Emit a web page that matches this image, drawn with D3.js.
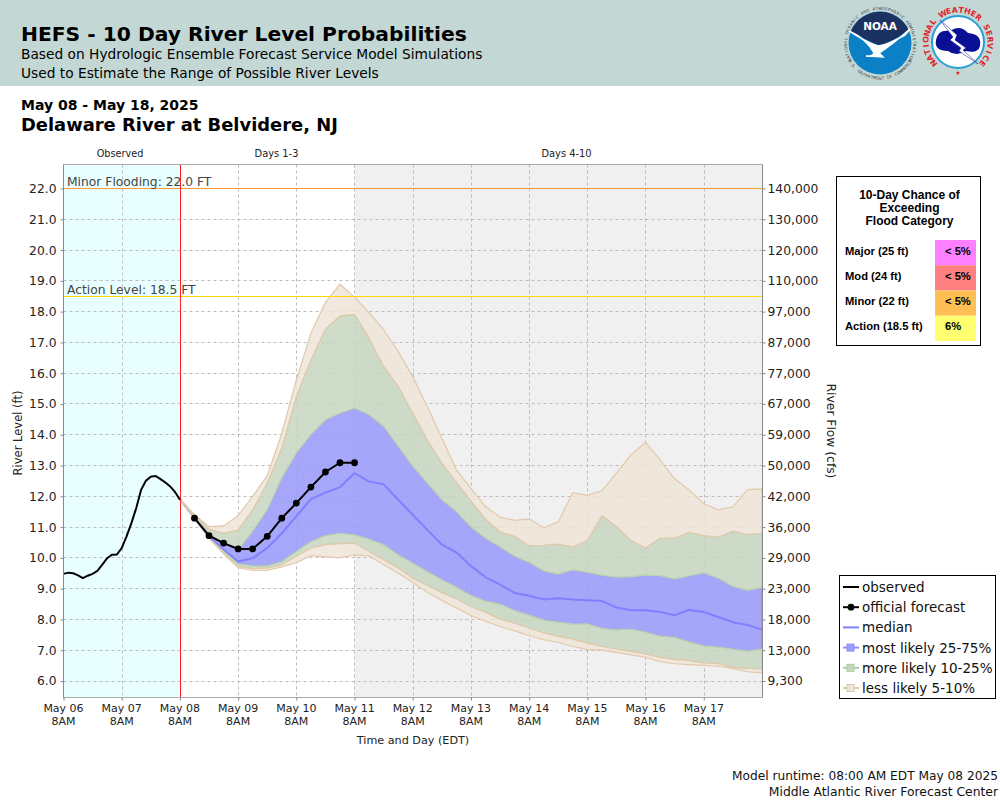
<!DOCTYPE html>
<html><head><meta charset="utf-8">
<script src="https://cdn.jsdelivr.net/npm/d3@7"></script>
<style>html,body{margin:0;padding:0;background:#fff}svg{display:block}text{font-family:"DejaVu Sans",sans-serif}</style>
</head><body><svg id="c" width="1000" height="800"></svg>
<script>
const stageTicks=[6,7,8,9,10,11,12,13,14,15,16,17,18,19,20,21,22];
const flowLabels=["9,300","13,000","18,000","23,000","29,000","36,000","42,000","50,000","59,000","67,000","77,000","87,000","97,000","110,000","120,000","130,000","140,000"];
const dayLabels=["May 06","May 07","May 08","May 09","May 10","May 11","May 12","May 13","May 14","May 15","May 16","May 17"];
const obsHours=[0,2,4,6,8,10,12,14,16,18,20,22,24,26,28,30,32,34,36,38,40,42,44,46,48];
const observed=[9.48,9.52,9.50,9.43,9.34,9.42,9.48,9.58,9.78,9.99,10.10,10.11,10.32,10.70,11.13,11.62,12.21,12.51,12.64,12.66,12.56,12.45,12.32,12.14,11.89];
const official=[11.29,10.72,10.48,10.29,10.29,10.70,11.29,11.78,12.30,12.79,13.09,13.09];
const median=[11.91,11.29,10.70,10.26,9.88,9.99,10.32,10.80,11.35,11.91,12.12,12.30,12.75,12.48,12.39,11.89,11.40,10.91,10.43,10.18,9.74,9.37,9.13,8.86,8.77,8.65,8.69,8.65,8.62,8.60,8.39,8.30,8.30,8.24,8.14,8.31,8.24,8.08,7.91,7.82,7.67];
const p75=[11.91,11.35,10.75,10.50,10.25,10.86,11.56,12.59,13.40,14.00,14.48,14.70,14.86,14.65,14.27,13.62,12.97,12.43,11.89,11.50,11.00,10.64,10.35,10.05,9.85,9.57,9.47,9.61,9.53,9.43,9.37,9.38,9.44,9.42,9.31,9.41,9.51,9.34,9.07,8.94,9.04];
const p25=[11.91,11.29,10.64,10.21,9.81,9.74,9.74,9.88,10.21,10.53,10.73,10.80,10.75,10.61,10.43,10.10,9.83,9.56,9.29,9.05,8.78,8.60,8.50,8.29,8.14,7.98,7.91,7.85,7.86,7.71,7.66,7.69,7.59,7.46,7.42,7.27,7.14,7.10,7.04,6.97,7.03];
const p90=[11.91,11.40,10.93,10.80,10.91,11.56,12.43,13.56,15.24,16.43,17.43,17.86,17.91,17.14,16.22,15.57,14.70,13.83,13.08,12.45,11.85,11.26,10.84,10.70,10.39,10.41,10.45,10.35,10.56,11.37,11.02,10.56,10.32,10.64,10.64,10.83,10.72,10.67,10.87,10.76,10.80];
const p10=[11.91,11.29,10.64,10.15,9.72,9.65,9.67,9.78,10.05,10.32,10.43,10.46,10.48,10.21,9.94,9.67,9.35,9.10,8.87,8.67,8.42,8.23,8.01,7.88,7.72,7.56,7.45,7.36,7.23,7.12,7.04,6.96,6.88,6.77,6.70,6.66,6.59,6.56,6.44,6.41,6.39];
const p95=[11.91,11.40,11.02,11.04,11.38,12.00,12.67,14.05,15.78,17.30,18.30,18.89,18.47,17.97,17.41,16.70,15.89,14.92,13.89,12.86,12.25,11.67,11.32,11.22,11.27,10.98,11.17,12.12,12.03,12.18,12.75,13.35,13.75,13.18,12.57,12.21,11.76,11.56,11.66,12.22,12.24];
const p05=[11.91,11.29,10.64,10.13,9.68,9.59,9.59,9.71,9.84,10.07,10.03,10.00,10.10,10.07,9.78,9.50,9.20,8.88,8.62,8.37,8.13,7.94,7.77,7.63,7.47,7.34,7.25,7.12,7.03,7.00,6.93,6.85,6.77,6.63,6.56,6.53,6.51,6.48,6.41,6.30,6.26];
const catNames=["Major (25 ft)","Mod (24 ft)","Minor (22 ft)","Action (18.5 ft)"];
const catValues=["< 5%","< 5%","< 5%","6%"];
const catColors=["#ff80ff","#ff8080","#ffbf55","#ffff70"];
const legendNames=["observed","official forecast","median","most likely 25-75%","more likely 10-25%","less likely 5-10%"];

const svg=d3.select("#c");
const L=63.5,R=762.5,T=164.5,B=697.5;
const x=d3.scaleLinear().domain([0,288]).range([L,762]);
const y=d3.scaleLinear().domain([6,22]).range([681,188.5]);
const t0=48;
const fh=i=>t0+i*6;
const cx=v=>Math.floor(v+0.4)+0.5, cy=v=>Math.floor(v)+0.5;

const txt=(g,xx,yy,s,size,o={})=>g.append("text").attr("x",xx).attr("y",yy).attr("font-size",size)
 .attr("font-weight",o.w||null).attr("fill",o.c||"#000").attr("text-anchor",o.a||"start")
 .style("font-family",o.f||null).text(s);

// header
svg.append("rect").attr("width",1000).attr("height",86).attr("fill","#c3d8d5");
txt(svg,21,41,"HEFS - 10 Day River Level Probabilities",20.25,{w:"bold"});
txt(svg,21,59,"Based on Hydrologic Ensemble Forecast Service Model Simulations",13.75);
txt(svg,21,78,"Used to Estimate the Range of Possible River Levels",13.75);
txt(svg,21,110,"May 08 - May 18, 2025",14,{w:"bold"});
txt(svg,21,131,"Delaware River at Belvidere, NJ",17.9,{w:"bold"});

// logos: ring lettering placed glyph by glyph
const ring=(g,ax,ay,r,a0,a1,s,size,color,weight,bottom)=>{
 Array.from(s).forEach((ch,i)=>{
  if(ch===" ")return;
  const a=a0+(a1-a0)*(i+.5)/s.length;
  const deg=a*180/Math.PI+(bottom?-90:90);
  g.append("text").attr("transform",`translate(${ax+r*Math.cos(a)},${ay+r*Math.sin(a)}) rotate(${deg})`)
   .attr("text-anchor","middle").attr("font-size",size).attr("font-weight",weight).attr("fill",color).text(ch);
 });
};
const noaa=svg.append("g");
const nx=880,ny=43;
noaa.append("circle").attr("cx",nx).attr("cy",ny).attr("r",31.5).attr("fill","#0b80c6");
noaa.append("path").attr("d",`M${nx-29},${ny-12}A31.5,31.5 0 0 1 ${nx+29},${ny-12}L${nx+25},${ny-10}Q${nx+8},${ny+1} ${nx-2},${ny+2}Q${nx-12},${ny-2} ${nx-29},${ny-12}Z`).attr("fill","#1b3162");
noaa.append("path").attr("d",`M${nx-31},${ny-12}Q${nx-13},${ny-4} ${nx-6},${ny+10}Q${nx-8},${ny+14} ${nx-14},${ny+13}L${nx+3},${ny+14}L${nx-1},${ny+10}Q${nx+12},${ny+2} ${nx+31},${ny-15}L${nx+25},${ny-8}Q${nx+5},${ny+3} ${nx-2},${ny+3}Q${nx-16},${ny-2} ${nx-31},${ny-12}Z`).attr("fill","#fff").attr("stroke","#fff").attr("stroke-width",1.5);
txt(noaa,nx,ny-13,"NOAA",10.5,{w:"bold",c:"#fff",a:"middle"});
ring(noaa,nx,ny,33.2,Math.PI*0.82,Math.PI*2.18,"NATIONAL OCEANIC AND ATMOSPHERIC ADMINISTRATION",3.9,"#334",null,false);
ring(noaa,nx,ny,36.5,Math.PI*0.84,Math.PI*0.16,"U.S. DEPARTMENT OF COMMERCE",3.9,"#334",null,true);
const nws=svg.append("g");
const wx=958,wy=42;
nws.append("circle").attr("cx",wx).attr("cy",wy).attr("r",26).attr("fill","#fff").attr("stroke","#2a9fd6").attr("stroke-width",2);
nws.append("path").attr("d",`M${wx-22},${wy-2}Q${wx-20},${wy-13} ${wx-8},${wy-11}Q${wx+2},${wy-18} ${wx+10},${wy-9}Q${wx+24},${wy-8} ${wx+22},${wy+4}Q${wx+20},${wy+12} ${wx+8},${wy+9}Q${wx-2},${wy+15} ${wx-10},${wy+9}Q${wx-24},${wy+9} ${wx-22},${wy-2}Z`).attr("fill","#0b0f96");
nws.append("path").attr("d",`M${wx-18},${wy-22}L${wx-1},${wy-7}L${wx-3},${wy-2}L${wx+8},${wy+6}L${wx+5},${wy+8}L${wx+20},${wy+22}L${wx+1},${wy+9}L${wx+3},${wy+6}L${wx-8},${wy-2}L${wx-5},${wy-5}Z`).attr("fill","#fff").attr("stroke","#0b0f96").attr("stroke-width",.5);
ring(nws,wx,wy,29.5,Math.PI*0.74,Math.PI*2.26,"NATIONAL WEATHER SERVICE",7.8,"#e0242c","bold",false);
txt(nws,wx,wy+33,"★",6,{c:"#e0242c",a:"middle"});

// plot background
svg.append("rect").attr("x",L).attr("y",T).attr("width",cx(x(t0))-L).attr("height",B-T).attr("fill","#e9ffff");
svg.append("rect").attr("x",cx(x(120))).attr("y",T).attr("width",R-cx(x(120))).attr("height",B-T).attr("fill","#f0f0f0");

// grid
const grid=svg.append("g").attr("stroke","#bbb").attr("stroke-width",1).attr("stroke-dasharray","3,3");
grid.selectAll("line.h").data(stageTicks).join("line").attr("class","h").attr("x1",L).attr("x2",R).attr("y1",d=>cy(y(d))).attr("y2",d=>cy(y(d)));
grid.selectAll("line.v").data(dayLabels.map((d,i)=>i*24)).join("line").attr("class","v").attr("x1",d=>cx(x(d))).attr("x2",d=>cx(x(d))).attr("y1",T).attr("y2",B);

// bands (innermost first, so the pale bands sit on top where they all pinch together)
const idx=d3.range(41);
const band=(lo,hi,fill,stroke,op)=>svg.append("path").datum(idx)
 .attr("d",d3.area().x(i=>x(fh(i))).y0(i=>y(lo[i])).y1(i=>y(hi[i])))
 .attr("fill",fill).attr("fill-opacity",op).attr("stroke",stroke).attr("stroke-width",1.2);
band(p25,p75,"#9c9cfb","#8e8efa",.9);
svg.append("path").datum(idx).attr("d",d3.line().x(i=>x(fh(i))).y(i=>y(median[i])))
 .attr("fill","none").attr("stroke","#8080ff").attr("stroke-width",2);
band(p75,p90,"#c6d6c0","#b8d3ae",.85);
band(p10,p25,"#c6d6c0","#b8d3ae",.85);
band(p90,p95,"#eee4d8","#e2c9ab",.85);
band(p05,p10,"#eee4d8","#e2c9ab",.85);

// levels
svg.append("line").attr("x1",L).attr("x2",R).attr("y1",cy(y(22))).attr("y2",cy(y(22))).attr("stroke","#ff9a2e").attr("stroke-width",1);
svg.append("line").attr("x1",L).attr("x2",R).attr("y1",cy(y(18.5))).attr("y2",cy(y(18.5))).attr("stroke","#ffd700").attr("stroke-width",1);
txt(svg,67,186,"Minor Flooding: 22.0 FT",12.3,{c:"#444"});
txt(svg,67,294,"Action Level: 18.5 FT",12.3,{c:"#444"});
svg.append("line").attr("x1",cx(x(t0))).attr("x2",cx(x(t0))).attr("y1",T).attr("y2",B).attr("stroke","#ff2020").attr("stroke-width",1);

// observed, official
svg.append("path").datum(obsHours).attr("d",d3.line().x(h=>x(h)).y((h,i)=>y(observed[i])))
 .attr("fill","none").attr("stroke","#000").attr("stroke-width",2);
const offIdx=d3.range(1,13);
svg.append("path").datum(offIdx).attr("d",d3.line().x(i=>x(fh(i))).y((i,k)=>y(official[k])))
 .attr("fill","none").attr("stroke","#000").attr("stroke-width",2);
svg.selectAll("circle.o").data(offIdx).join("circle").attr("class","o").attr("cx",i=>x(fh(i))).attr("cy",(i,k)=>y(official[k])).attr("r",3.4).attr("fill","#000");

// frame
svg.append("path").attr("d",`M${L},${B}V${T}H${R}V${B}H${L}`).attr("fill","none").attr("stroke","#aaa");
svg.append("line").attr("x1",L).attr("x2",L).attr("y1",T).attr("y2",B).attr("stroke","#888");
svg.append("line").attr("x1",R).attr("x2",R).attr("y1",T).attr("y2",B).attr("stroke","#888");

// axes
const styleAxis=g=>{g.select(".domain").remove();g.selectAll("line").attr("stroke","#888");g.selectAll("text").attr("font-size",12.3).attr("fill","#222").style("font-family",'"DejaVu Sans"');};
svg.append("g").attr("transform",`translate(${L},0)`).call(d3.axisLeft(y).tickValues(stageTicks).tickFormat(d3.format(".1f")).tickSize(3).tickPadding(4)).call(styleAxis);
svg.append("g").attr("transform",`translate(${R},0)`).call(d3.axisRight(y).tickValues(stageTicks).tickFormat((d,i)=>flowLabels[i]).tickSize(3).tickPadding(2)).call(styleAxis);
const xAxis=svg.append("g").attr("transform",`translate(0,${B})`).call(d3.axisBottom(x).tickValues(dayLabels.map((d,i)=>i*24)).tickFormat("").tickSize(3));
xAxis.select(".domain").remove();xAxis.selectAll("line").attr("stroke","#888");
dayLabels.forEach((d,i)=>{txt(svg,x(i*24),712,d,11,{a:"middle",c:"#222"});txt(svg,x(i*24),725,"8AM",11,{a:"middle",c:"#222"});});
txt(svg,413,744,"Time and Day (EDT)",11.2,{a:"middle",c:"#222"});
svg.append("text").attr("transform","translate(22,433) rotate(-90)").attr("text-anchor","middle").attr("font-size",11.5).attr("fill","#222").text("River Level (ft)");
svg.append("text").attr("transform","translate(827,431) rotate(90)").attr("text-anchor","middle").attr("font-size",12.3).attr("fill","#222").text("River Flow (cfs)");
txt(svg,120,157,"Observed",9.7,{a:"middle",c:"#222"});
txt(svg,276.5,157,"Days 1-3",9.9,{a:"middle",c:"#222"});
txt(svg,566.5,157,"Days 4-10",9.9,{a:"middle",c:"#222"});

// chance table
svg.append("rect").attr("x",836.5).attr("y",176.5).attr("width",144).attr("height",169).attr("fill","#fff").attr("stroke","#000");
const LS='"Liberation Sans",sans-serif';
["10-Day Chance of","Exceeding","Flood Category"].forEach((s,i)=>txt(svg,909.5,199+i*13,s,12,{w:"bold",a:"middle",f:LS}));
const rowY=d3.scaleBand().domain(catNames).range([240,341]);
catNames.forEach((n,i)=>{
 svg.append("rect").attr("x",935).attr("y",rowY(n)).attr("width",41).attr("height",rowY.bandwidth()).attr("fill",catColors[i]);
 txt(svg,845,rowY(n)+14.5,n,11.2,{w:"bold",f:LS});
 txt(svg,945,rowY(n)+14.5,catValues[i],11.2,{w:"bold",f:LS});
});

// legend
svg.append("rect").attr("x",839.5).attr("y",575.5).attr("width",156).attr("height",123).attr("fill","#fff").attr("stroke","#000");
const legY=i=>587+i*20.2;
const legCol=["#000","#000","#8080ff","#8e8efa","#a8cf9c","#e0c8aa"];
const legFill=[null,null,null,"#9c9cfb","#c6d6c0","#eee4d8"];
legendNames.forEach((n,i)=>{
 svg.append("line").attr("x1",843).attr("x2",859).attr("y1",legY(i)).attr("y2",legY(i)).attr("stroke",legCol[i]).attr("stroke-width",2);
 if(i==1)svg.append("circle").attr("cx",851).attr("cy",legY(i)).attr("r",3.4).attr("fill","#000");
 if(legFill[i])svg.append("rect").attr("x",847).attr("y",legY(i)-3.5).attr("width",7).attr("height",7).attr("fill",legFill[i]).attr("stroke",legCol[i]);
 txt(svg,862,legY(i)+5,n,13.5,{c:"#111"});
});

txt(svg,998,780,"Model runtime: 08:00 AM EDT May 08 2025",12.2,{a:"end",c:"#111"});
txt(svg,998,796,"Middle Atlantic River Forecast Center",12.35,{a:"end",c:"#111"});
</script></body></html>
